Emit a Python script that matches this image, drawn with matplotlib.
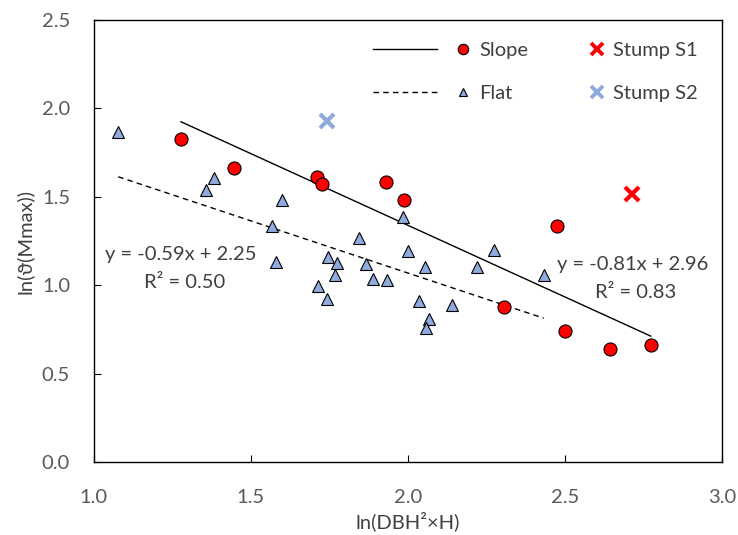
import matplotlib
matplotlib.use("Agg")
import matplotlib.pyplot as plt
from matplotlib.lines import Line2D
import numpy as np

plt.rcParams['font.family'] = ['Lato', 'DejaVu Sans']

# Slope plots
slope_x = [1.278, 1.447, 1.710, 1.728, 1.931, 1.987, 2.307, 2.475, 2.501, 2.644, 2.774]
slope_y = [1.827, 1.662, 1.615, 1.574, 1.587, 1.484, 0.878, 1.337, 0.743, 0.643, 0.663]

# Flat plots
flat_x = [1.078, 1.384, 1.358, 1.599, 1.569, 1.580, 1.747, 1.775, 1.769, 1.715,
          1.744, 1.845, 1.866, 1.890, 1.935, 1.986, 2.000, 2.056, 2.037, 2.068,
          2.057, 2.141, 2.222, 2.275, 2.433]
flat_y = [1.866, 1.608, 1.538, 1.484, 1.338, 1.131, 1.161, 1.129, 1.061, 0.999,
          0.922, 1.265, 1.120, 1.035, 1.031, 1.384, 1.193, 1.103, 0.911, 0.811,
          0.761, 0.891, 1.103, 1.199, 1.059]

# Stumps
s1_x, s1_y = [2.713], [1.516]
s2_x, s2_y = [1.744], [1.927]

# Fitted power-law regressions (log-log)
slope_fit = (-0.81, 2.96, 0.83)
flat_fit = (-0.59, 2.25, 0.50)

TXT = '#404040'
TICK = '#595959'
TRI = '#8FAADC'
S2C = '#8EA9DB'
FS = 14.5

fig = plt.figure(figsize=(7.38, 5.35), dpi=100)
ax = fig.add_axes([0.127, 0.1359, 0.851, 0.8267])

# regression lines over each data range
xs = np.array([min(slope_x), max(slope_x)])
ax.plot(xs, slope_fit[0] * xs + slope_fit[1], color='black', lw=1.0, zorder=2)
xf = np.array([min(flat_x), max(flat_x)])
ax.plot(xf, flat_fit[0] * xf + flat_fit[1], color='black', lw=1.0,
        ls=(0, (4, 3)), zorder=2)

ax.plot(flat_x, flat_y, ls='none', marker='^', ms=8.0, mfc=TRI, mec='black',
        mew=0.8, zorder=3)
ax.plot(slope_x, slope_y, ls='none', marker='o', ms=9.4, mfc='#FF0000', mec='black',
        mew=0.8, zorder=4)
ax.plot(s1_x, s1_y, ls='none', marker='x', ms=10.5, mec='#FF0000', mew=3.0, zorder=4)
ax.plot(s2_x, s2_y, ls='none', marker='x', ms=10.5, mec=S2C, mew=3.0, zorder=4)

ax.set_xlim(1.0, 3.0)
ax.set_ylim(0.0, 2.5)
ax.set_xticks(np.arange(1.0, 3.01, 0.5))
ax.set_yticks(np.arange(0.0, 2.51, 0.5))
ax.xaxis.set_major_formatter(matplotlib.ticker.FormatStrFormatter('%.1f'))
ax.yaxis.set_major_formatter(matplotlib.ticker.FormatStrFormatter('%.1f'))
ax.tick_params(direction='in', length=5, width=0.8, colors='black',
               labelcolor=TICK, labelsize=FS)
ax.tick_params(axis='x', pad=19)
ax.tick_params(axis='y', pad=17)
for s in ax.spines.values():
    s.set_linewidth(1.0)
    s.set_color('black')

ax.set_xlabel('ln(DBH\u00b2\u00d7H)', fontsize=FS, color=TXT, labelpad=4)
ax.set_ylabel('ln(\u03d1(Mmax))', fontsize=FS, color=TXT, labelpad=6)

# equations
ax.text(1.036, 1.176, 'y = %.2fx + %.2f' % (flat_fit[0], flat_fit[1]),
        fontsize=FS, color=TXT, ha='left', va='center')
ax.text(1.289, 1.014, 'R\u00b2 = %.2f' % flat_fit[2],
        fontsize=FS, color=TXT, ha='center', va='center')
ax.text(2.476, 1.116, 'y = %.2fx + %.2f' % (slope_fit[0], slope_fit[1]),
        fontsize=FS, color=TXT, ha='left', va='center')
ax.text(2.727, 0.957, 'R\u00b2 = %.2f' % slope_fit[2],
        fontsize=FS, color=TXT, ha='center', va='center')

# legend in three columns
leg_kw = dict(frameon=False, fontsize=FS, labelcolor=TXT, labelspacing=1.32,
              borderaxespad=0, handletextpad=0.4)
h_lines = [Line2D([], [], color='black', lw=1.0),
           Line2D([], [], color='black', lw=1.0, ls=(0, (4, 3)))]
l1 = ax.legend(h_lines, ['', ''], loc='upper left', bbox_to_anchor=(0.432, 0.9695),
               handlelength=3.18, **leg_kw)
ax.add_artist(l1)
h_pts = [Line2D([], [], ls='none', marker='o', ms=7.5, mfc='#FF0000', mec='black', mew=0.8),
         Line2D([], [], ls='none', marker='^', ms=6.0, mfc=TRI, mec='black', mew=0.8)]
l2 = ax.legend(h_pts, ['Slope', 'Flat'], loc='upper left', bbox_to_anchor=(0.5626, 0.9695),
               handlelength=0.8, **leg_kw)
ax.add_artist(l2)
h_st = [Line2D([], [], ls='none', marker='x', ms=8.5, mec='#FF0000', mew=2.8),
        Line2D([], [], ls='none', marker='x', ms=8.5, mec=S2C, mew=2.8)]
ax.legend(h_st, ['Stump S1', 'Stump S2'], loc='upper left', bbox_to_anchor=(0.776, 0.9695),
          handlelength=0.8, **leg_kw)

fig.savefig('out.png', dpi=100)
